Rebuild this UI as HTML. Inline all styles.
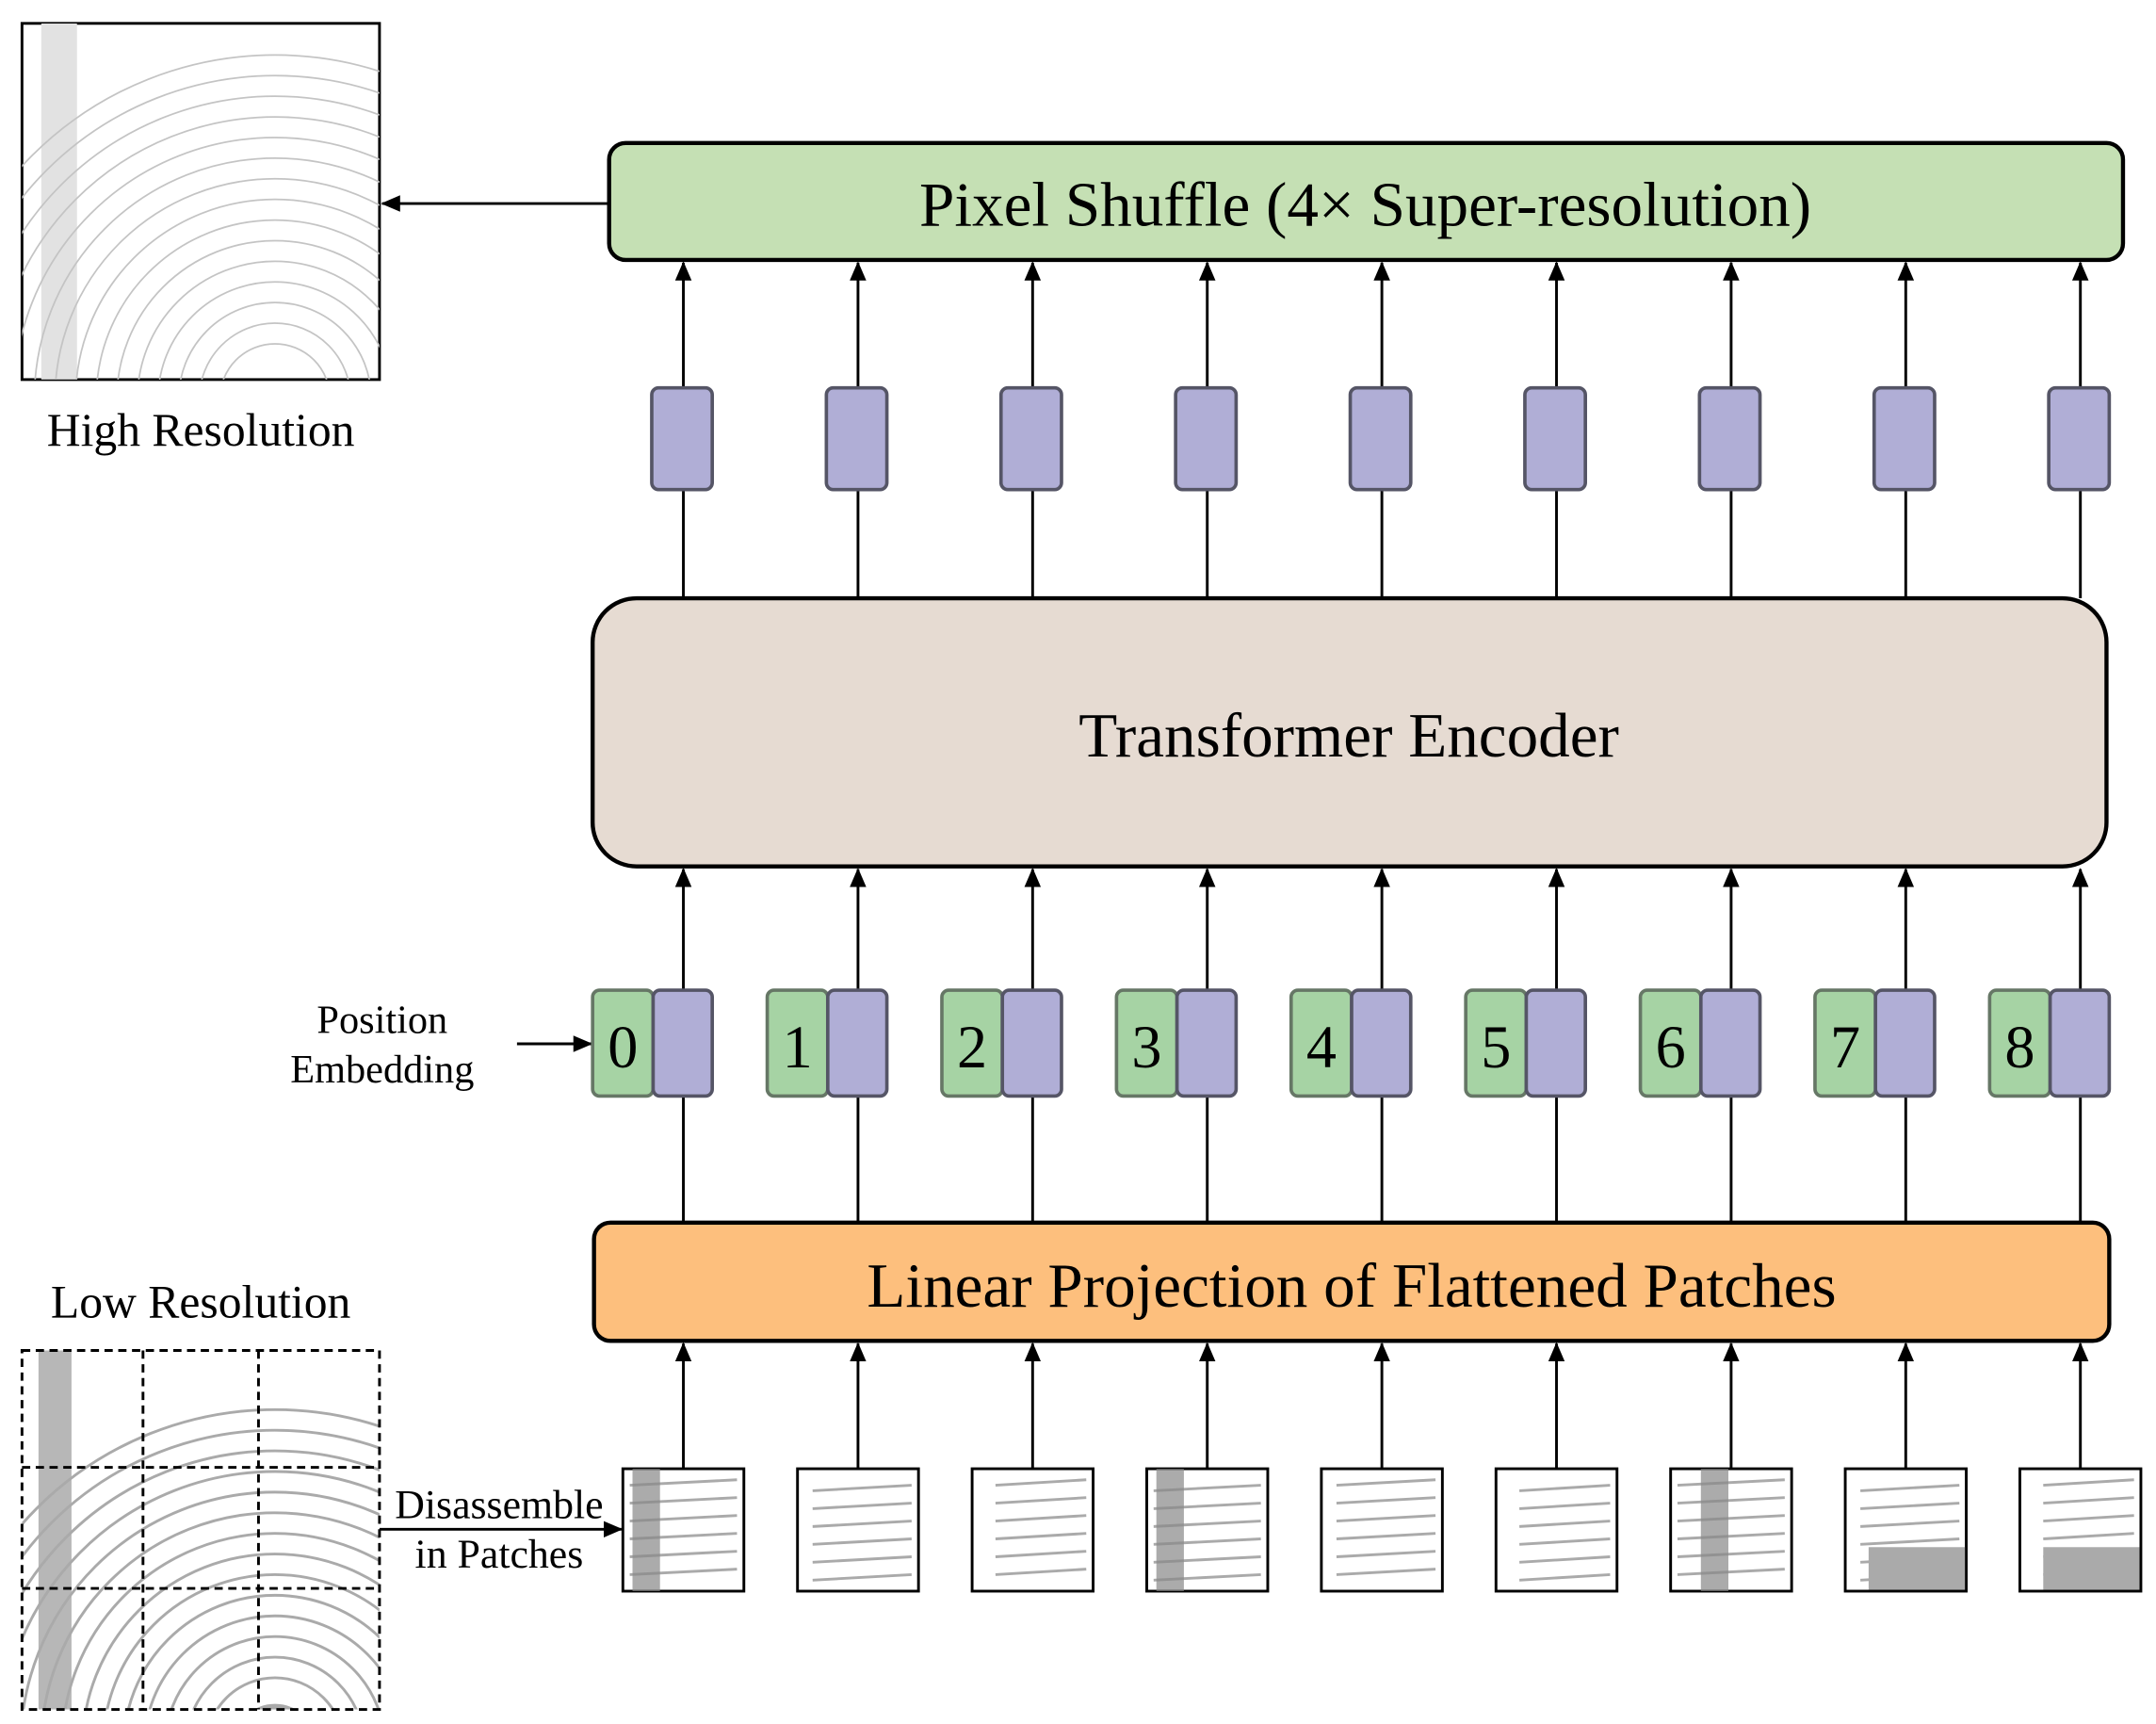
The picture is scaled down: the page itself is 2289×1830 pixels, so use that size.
<!DOCTYPE html>
<html><head><meta charset="utf-8"><style>
html,body{margin:0;padding:0;background:#fff;width:2289px;height:1830px;overflow:hidden}
svg{display:block}
text{font-family:"Liberation Serif","DejaVu Serif",serif;fill:#000}
</style></head><body>
<svg width="2289" height="1830" viewBox="0 0 1568 1253.6" preserveAspectRatio="none" xmlns="http://www.w3.org/2000/svg" font-family="Liberation Serif, serif">
<defs>
<marker id="b" markerWidth="14" markerHeight="14" refX="13" refY="7" orient="auto" markerUnits="userSpaceOnUse">
<path d="M0,1 L14,7 L0,13 z" fill="#000"/></marker>
<clipPath id="hr"><rect x="16" y="17" width="260" height="259"/></clipPath>
<clipPath id="lr"><rect x="16" y="982" width="260" height="261"/></clipPath>
</defs>

<rect x="16" y="17" width="260" height="259" fill="#fff" stroke="#000" stroke-width="2"/>
<g clip-path="url(#hr)" fill="none" stroke="#c4c4c4" stroke-width="1.2">
<rect x="30" y="17" width="26" height="259" fill="#e2e2e2" stroke="none"/>
<circle cx="200" cy="290" r="40"/><circle cx="200" cy="290" r="55"/><circle cx="200" cy="290" r="70"/>
<circle cx="200" cy="290" r="85"/><circle cx="200" cy="290" r="100"/><circle cx="200" cy="290" r="115"/>
<circle cx="200" cy="290" r="130"/><circle cx="200" cy="290" r="145"/><circle cx="200" cy="290" r="160"/>
<circle cx="200" cy="290" r="175"/><circle cx="200" cy="290" r="190"/><circle cx="200" cy="290" r="205"/>
<circle cx="200" cy="290" r="220"/><circle cx="200" cy="290" r="235"/><circle cx="200" cy="290" r="250"/>
</g>
<text x="146" y="324" font-size="34" text-anchor="middle">High Resolution</text>

<rect x="443" y="104" width="1101" height="85" rx="12" fill="#c5e0b4" stroke="#000" stroke-width="3"/>
<text x="993" y="164" font-size="46" text-anchor="middle">Pixel Shuffle (4× Super-resolution)</text>
<line x1="443" y1="148" x2="278" y2="148" stroke="#000" stroke-width="2" marker-end="url(#b)"/>

<rect x="431" y="435" width="1101" height="195" rx="32" fill="#e6dbd2" stroke="#000" stroke-width="3"/>
<text x="981" y="550" font-size="46" text-anchor="middle">Transformer Encoder</text>

<rect x="432" y="889" width="1102" height="86" rx="12" fill="#fdbf7d" stroke="#000" stroke-width="3"/>
<text x="983" y="950" font-size="46" text-anchor="middle">Linear Projection of Flattened Patches</text>

<text x="278" y="751" font-size="29" text-anchor="middle">Position</text>
<text x="278" y="787" font-size="29" text-anchor="middle">Embedding</text>
<line x1="376" y1="759" x2="430" y2="759" stroke="#000" stroke-width="2" marker-end="url(#b)"/>

<text x="146" y="958" font-size="34" text-anchor="middle">Low Resolution</text>
<g clip-path="url(#lr)" fill="none" stroke="#aaa" stroke-width="2">
<rect x="28" y="982" width="24" height="261" fill="#999" stroke="none" opacity="0.7"/>
<circle cx="200" cy="1270" r="30" fill="#aaa"/><circle cx="200" cy="1270" r="50"/><circle cx="200" cy="1270" r="65"/>
<circle cx="200" cy="1270" r="80"/><circle cx="200" cy="1270" r="95"/><circle cx="200" cy="1270" r="110"/>
<circle cx="200" cy="1270" r="125"/><circle cx="200" cy="1270" r="140"/><circle cx="200" cy="1270" r="155"/>
<circle cx="200" cy="1270" r="170"/><circle cx="200" cy="1270" r="185"/><circle cx="200" cy="1270" r="200"/>
<circle cx="200" cy="1270" r="215"/><circle cx="200" cy="1270" r="230"/><circle cx="200" cy="1270" r="245"/>
</g>
<g fill="none" stroke="#000" stroke-width="2" stroke-dasharray="6,4">
<rect x="16" y="982" width="260" height="261"/>
<line x1="104" y1="982" x2="104" y2="1243"/><line x1="188" y1="982" x2="188" y2="1243"/>
<line x1="16" y1="1067" x2="276" y2="1067"/><line x1="16" y1="1155" x2="276" y2="1155"/>
</g>
<line x1="276" y1="1112" x2="452" y2="1112" stroke="#000" stroke-width="2" marker-end="url(#b)"/>
<text x="363" y="1104" font-size="30" text-anchor="middle">Disassemble</text>
<text x="363" y="1140" font-size="30" text-anchor="middle">in Patches</text>

<g id="all"></g>
<script>
(function(){
var ns="http://www.w3.org/2000/svg",g=document.getElementById("all");
function el(t,a){var e=document.createElementNS(ns,t);for(var k in a)e.setAttribute(k,a[k]);g.appendChild(e);return e;}
for(var k=0;k<9;k++){
 var o=127*k, cx=497+o;
 var s={stroke:"#000","stroke-width":2};
 el("line",Object.assign({x1:cx,y1:282,x2:cx,y2:191,"marker-end":"url(#b)"},s));
 el("line",Object.assign({x1:cx,y1:435,x2:cx,y2:356},s));
 el("line",Object.assign({x1:cx,y1:720,x2:cx,y2:632,"marker-end":"url(#b)"},s));
 el("line",Object.assign({x1:cx,y1:889,x2:cx,y2:797},s));
 el("line",Object.assign({x1:cx,y1:1068,x2:cx,y2:977,"marker-end":"url(#b)"},s));
 el("rect",{x:474+o,y:282,width:44,height:74,rx:5,fill:"#b0aed6",stroke:"#555566","stroke-width":2.5});
 el("rect",{x:431+o,y:720,width:44,height:77,rx:5,fill:"#a6d3a4",stroke:"#667766","stroke-width":2.5});
 el("rect",{x:475+o,y:720,width:43,height:77,rx:5,fill:"#b0aed6",stroke:"#555566","stroke-width":2.5});
 var t=el("text",{x:453+o,y:776,"font-size":44,"text-anchor":"middle","font-family":"Liberation Serif, serif"});t.textContent=k;
 el("rect",{x:453+o,y:1068,width:88,height:89,fill:"#fff",stroke:"#000","stroke-width":2});
 for(var j=0;j<6;j++){el("line",{x1:458+o+(k%3)*6,y1:1080+j*13+(k%2)*4,x2:536+o,y2:1076+j*13+(k%2)*4,stroke:"#aaa","stroke-width":2});}
 if(k==0||k==3||k==6)el("rect",{x:460+o+(k==6?15:0),y:1068,width:20,height:89,fill:"#888",opacity:0.7});
 if(k>=7)el("rect",{x:470+o,y:1125,width:70,height:31,fill:"#aaa"});
}
})();
</script>
</svg>
</body></html>
